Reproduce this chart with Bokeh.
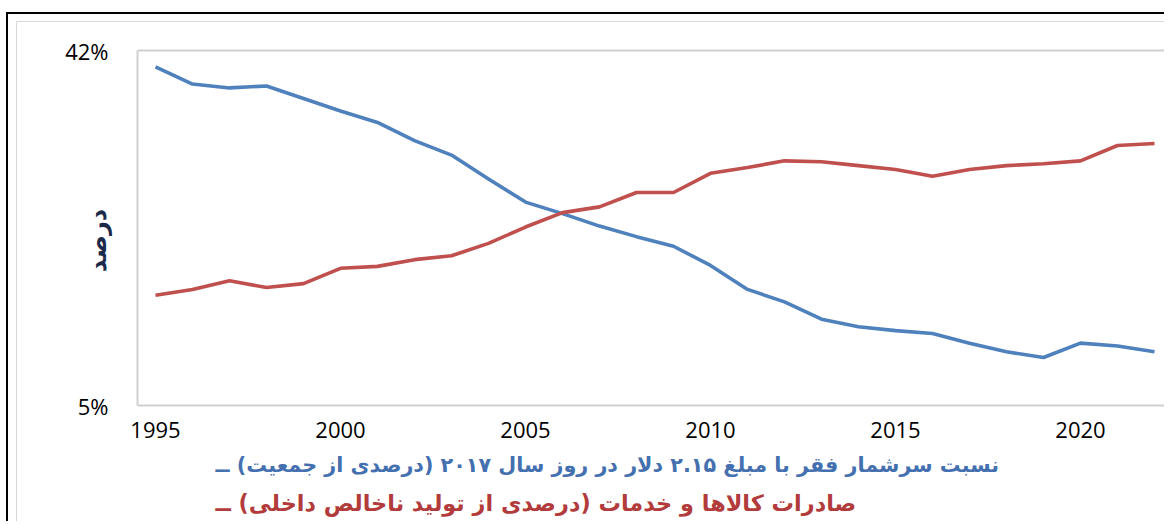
from bokeh.plotting import figure
from bokeh.layouts import column
from bokeh.models import Range1d, FixedTicker, LinearAxis, Title
from bokeh.embed import file_html
from bokeh.resources import INLINE

# ---- data ----
years = list(range(1995, 2023))
poverty = [40.3, 38.5, 38.1, 38.3, 37.0, 35.7, 34.5, 32.6, 31.1, 28.6,
           26.2, 25.0, 23.7, 22.6, 21.6, 19.6, 17.1, 15.8, 14.0, 13.2,
           12.8, 12.5, 11.5, 10.6, 10.0, 11.5, 11.2, 10.6]
exports = [16.5, 17.1, 18.0, 17.3, 17.7, 19.3, 19.5, 20.2, 20.6, 21.9,
           23.6, 25.1, 25.7, 27.2, 27.2, 29.2, 29.8, 30.5, 30.4, 30.0,
           29.6, 28.9, 29.6, 30.0, 30.2, 30.5, 32.1, 32.3]
x_ticks = [1995, 2000, 2005, 2010, 2015, 2020]
y_ticks = [5, 42]
y_tick_labels = {5: "5%", 42: "42%"}
y_title = "درصد"
legend_poverty = "نسبت سرشمار فقر با مبلغ ۲.۱۵ دلار در روز سال ۲۰۱۷ (درصدی از جمعیت) ــ"
legend_exports = "صادرات کالاها و خدمات (درصدی از تولید ناخالص داخلی) ــ"

BLUE = "#4f81bd"
RED = "#c0504d"
AXIS_GRAY = "#d0d0d0"

p = figure(width=1148, height=500, output_backend="svg", toolbar_location=None,
           x_range=Range1d(1994.514, 2022.297), y_range=Range1d(5, 42),
           min_border_left=120, min_border_top=28, min_border_bottom=117,
           min_border_right=0)
p.background_fill_color = "white"
p.border_fill_color = "white"
p.outline_line_color = None
p.xgrid.visible = False
p.ygrid.visible = False

# x axis
xa = p.xaxis[0]
xa.ticker = FixedTicker(ticks=x_ticks)
xa.axis_line_color = AXIS_GRAY
xa.axis_line_width = 2
xa.major_tick_line_color = None
xa.minor_tick_line_color = None
xa.major_label_text_font = "Open Sans"
xa.major_label_text_font_size = "22px"
xa.major_label_text_color = "#000000"
xa.major_label_standoff = 10

# y axis (tick labels + rotated title tucked in next to the frame)
ya = p.yaxis[0]
ya.ticker = FixedTicker(ticks=y_ticks)
ya.major_label_overrides = y_tick_labels
ya.axis_line_color = AXIS_GRAY
ya.axis_line_width = 2
ya.major_tick_line_color = None
ya.minor_tick_line_color = None
ya.major_label_text_font = "Open Sans"
ya.major_label_text_font_size = "22px"
ya.major_label_text_color = "#000000"
ya.major_label_standoff = 23
ya.axis_label = y_title + "\u00a0\u00a0\u00a0"
ya.axis_label_text_font = "DejaVu Sans"
ya.axis_label_text_font_style = "bold"
ya.axis_label_text_font_size = "24px"
ya.axis_label_text_color = "#1c2a4a"
ya.axis_label_standoff = -50

# top border line
top_axis = LinearAxis(ticker=FixedTicker(ticks=[]), axis_line_color=AXIS_GRAY,
                      axis_line_width=2, major_tick_line_color=None,
                      minor_tick_line_color=None, major_label_text_font_size="0px")
p.add_layout(top_axis, "above")

# series
p.line(years, poverty, line_color=BLUE, line_width=3.6, line_join="round")
p.line(years, exports, line_color=RED, line_width=3.6, line_join="round")

# legend entries (RTL text with the key dash at the end)
t1 = Title(text=legend_poverty, align="left", offset=78, standoff=21,
           text_font="DejaVu Sans", text_font_style="bold",
           text_font_size="20.7px", text_color="#4470b0")
t2 = Title(text=legend_exports, align="left", offset=78, standoff=0,
           text_font="DejaVu Sans", text_font_style="bold",
           text_font_size="22.4px", text_color="#b23b3b")
p.add_layout(t1, "below")
p.add_layout(t2, "below")

# frames (inner light-grey chart frame, outer black frame)
p.margin = (7, 0, 0, 8)
p.styles = {"border-left": "1px solid #d9d9d9", "border-top": "1px solid #d9d9d9"}
outer = column(p, margin=(12, 0, 0, 6),
               styles={"border-left": "2px solid #000000", "border-top": "2px solid #000000"})

open("out.html", "w").write(file_html(outer, INLINE))
